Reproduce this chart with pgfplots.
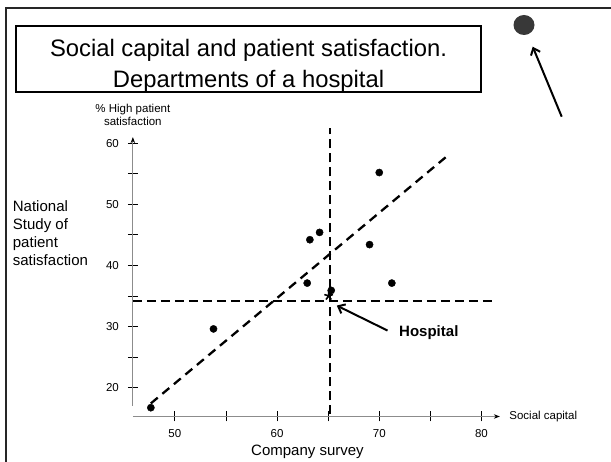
\documentclass[border=0pt]{standalone}
\usepackage{fontspec}
\setmainfont{Liberation Sans}
\usepackage{pgfplots}
\pgfplotsset{compat=1.18}
\usetikzlibrary{arrows.meta}
\begin{document}
\begin{tikzpicture}[x=1pt,y=1pt]
\useasboundingbox (0,0) rectangle (611,462);
\fill[white] (0,0) rectangle (611,462);
% outer frame
\draw[line width=2pt, black!85] (6,0) -- (6,453.7) -- (611,453.7);
% title box
\draw[line width=1.8pt] (16,369.7) rectangle (481,435.7);
\node[anchor=base, inner sep=0pt, font=\fontsize{23.8}{28}\selectfont] at (248.5,462-57) {Social capital and patient satisfaction.};
\node[anchor=base, inner sep=0pt, font=\fontsize{23.8}{28}\selectfont] at (248.5,462-87.5) {Departments of a hospital};
% decoration top right
\fill[black!78] (524,437) ellipse [x radius=10.5, y radius=10];
\draw[line width=2pt, -{Straight Barb[length=6pt,width=10pt]}] (561.7,345.3) -- (532.7,415.3);
% left label
\node[anchor=north west, inner sep=0pt, align=left, font=\fontsize{15}{18.3}\selectfont] at (12.7,462-200) {National\\Study of\\patient\\satisfaction};
% bottom label
\node[anchor=center, inner sep=0pt, font=\fontsize{15}{18}\selectfont] at (307.5,462-451.7) {Company survey};

\begin{axis}[
  at={(130,74.5)}, anchor=south west,
  x=10.22pt, y=6.108pt,
  xmin=45.89, xmax=81.8, ymin=15.26, ymax=61.0,
  axis lines=left,
  clip=false,
  axis line style={line width=1pt, black!45},
  x axis line style={-{Stealth[length=6pt,width=4.5pt,black]}},
  y axis line style={shorten <=10.6pt, -{Stealth[length=6pt,width=4.5pt,black]}},
  xtick={50,60,70,80}, minor xtick={55,65,75},
  ytick={20,30,40,50,60}, minor ytick={25,35,45,55},
  tick align=center,
  major tick length=10pt, minor tick length=10pt,
  tick style={black, line width=0.8pt},
  tick label style={font=\fontsize{11.5}{13}\selectfont},
  xticklabel style={yshift=-4pt},
  yticklabel style={xshift=-5.5pt},
  /pgf/number format/assume math mode=true,
  xlabel={Social capital},
  ylabel={\% High patient\\satisfaction},
  every axis x label/.style={at={(rel axis cs:1,0)}, anchor=west, xshift=6pt, font=\fontsize{11.5}{13}\selectfont},
  every axis y label/.style={at={(rel axis cs:0,1)}, anchor=center, yshift=22pt, align=center, font=\fontsize{11.5}{13.4}\selectfont},
]
% reference lines
\addplot[black, line width=2.3pt, dash pattern=on 9pt off 5pt] coordinates {(45.89,34.2) (81.1,34.2)};
\addplot[black, line width=2.5pt, dash pattern=on 9pt off 5pt] coordinates {(65.17,15.6) (65.17,62.5)};
\addplot[black, line width=2.3pt, dash pattern=on 9pt off 6pt] coordinates {(47.65,17.4) (76.5,57.7)};
% departments
\addplot[only marks, mark=*, mark size=3.6pt, black] coordinates {
  (47.65,16.7) (53.78,29.6) (62.95,37.1) (63.21,44.2) (64.16,45.4)
  (65.3,35.9) (69.05,43.4) (70.0,55.2) (71.23,37.1)
};
% hospital
\addplot[only marks, mark=star, mark size=4.5pt, black, line width=1.6pt] coordinates {(65.05,35.0)};
\draw[line width=2pt, -{Straight Barb[length=6pt,width=10pt]}] (axis cs:70.81,29.33) -- (axis cs:65.84,33.42);
\node[font=\fontsize{15}{18}\selectfont\bfseries] at (axis cs:74.85,29.0) {Hospital};
\end{axis}
\end{tikzpicture}
\end{document}
